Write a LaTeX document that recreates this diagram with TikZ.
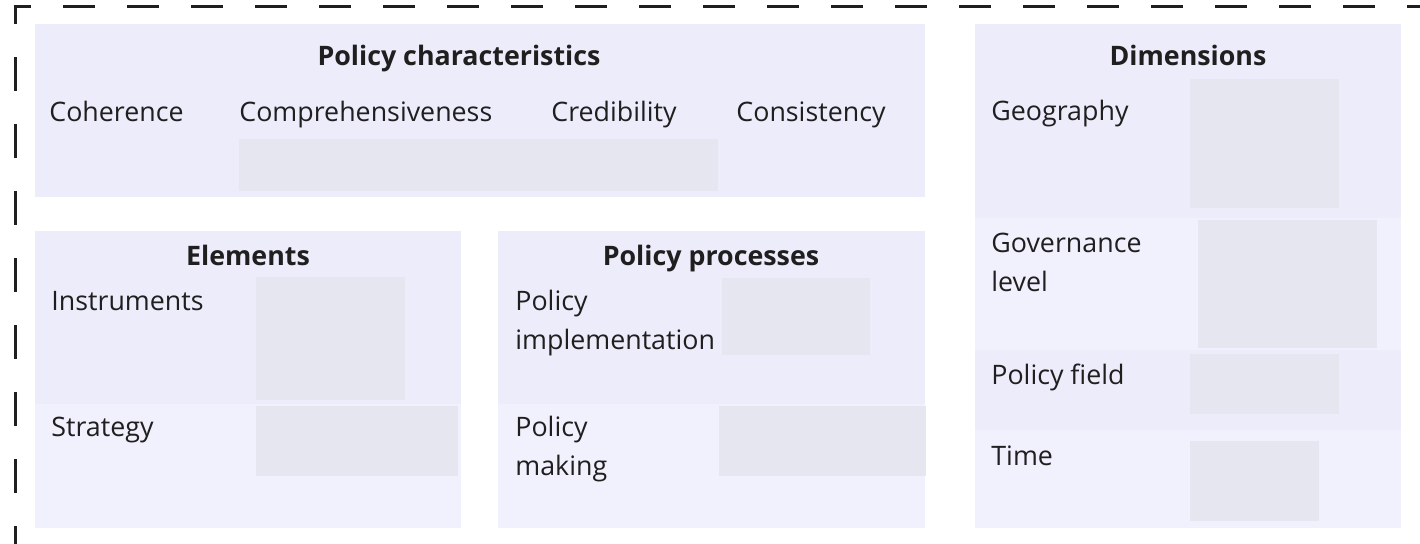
\documentclass[tikz,border=0pt]{standalone}
\usepackage{fontspec}
\setmainfont{Open Sans}
\definecolor{paneldark}{HTML}{EDECFB}
\definecolor{panellight}{HTML}{F1F0FD}
\definecolor{slotgray}{HTML}{E6E6F0}
\definecolor{inkdark}{HTML}{1F1F1F}

\begin{document}
\begin{tikzpicture}[x=0.5pt,y=-0.5pt,
  every node/.style={inner sep=0pt,text=inkdark,font=\fontsize{13.4pt}{19.5pt}\selectfont},
  head/.style={anchor=base,font=\fontsize{13.4pt}{19.5pt}\selectfont\bfseries},
  item/.style={anchor=base west,align=left},
  slot/.style={fill=slotgray},
  frame/.style={line width=1.5pt,draw=inkdark}]
\useasboundingbox (0,0) rectangle (1420,544);

% frame
\draw[frame,dash pattern=on 16pt off 16pt,dash phase=7.25pt] (13.5,7) -- (1420,7);
\draw[frame,dash pattern=on 16.75pt off 16.75pt,dash phase=7.5pt] (15,5.5) -- (15,544);

% policy characteristics
\fill[paneldark] (35,24) rectangle (925,197);
\fill[slot] (239,139) rectangle (718,191);
\node[head] (charhead) at (459,66) {Policy characteristics};
\node[item] (coh) at (49,122) {Coherence};
\node[item] (comp) at (239,122) {Comprehensiveness};
\node[item] (cred) at (551,122) {Credibility};
\node[item] (cons) at (736,122) {Consistency};

% elements
\fill[paneldark] (35,231) rectangle (461,404);
\fill[panellight] (35,404) rectangle (461,528);
\fill[slot] (256,277) rectangle (405,400);
\fill[slot] (256,406) rectangle (458,476);
\node[head] (elemhead) at (248,266) {Elements};
\node[item] (instr) at (51,311) {Instruments};
\node[item] (strat) at (51,437) {Strategy};

% policy processes (two-line labels: base is the last line)
\fill[paneldark] (498,231) rectangle (925,404);
\fill[panellight] (498,404) rectangle (925,528);
\fill[slot] (722,278) rectangle (870,355);
\fill[slot] (719,406) rectangle (926,476);
\node[head] (prochead) at (711,266) {Policy processes};
\node[item] (impl) at (515,350) {Policy\\implementation};
\node[item] (making) at (515,476) {Policy\\making};

% dimensions
\fill[paneldark] (975,24) rectangle (1401,218);
\fill[panellight] (975,218) rectangle (1401,350);
\fill[paneldark] (975,350) rectangle (1401,430);
\fill[panellight] (975,430) rectangle (1401,528);
\fill[slot] (1190,79) rectangle (1339,208);
\fill[slot] (1198,220) rectangle (1377,348);
\fill[slot] (1190,354) rectangle (1339,414);
\fill[slot] (1190,441) rectangle (1319,521);
\node[head] (dimhead) at (1188,66) {Dimensions};
\node[item] (geo) at (991,121) {Geography};
\node[item] (gov) at (991,292) {Governance\\level};
\node[item] (field) at (991,385) {Policy field};
\node[item] (time) at (991,466) {Time};

\end{tikzpicture}
\end{document}
